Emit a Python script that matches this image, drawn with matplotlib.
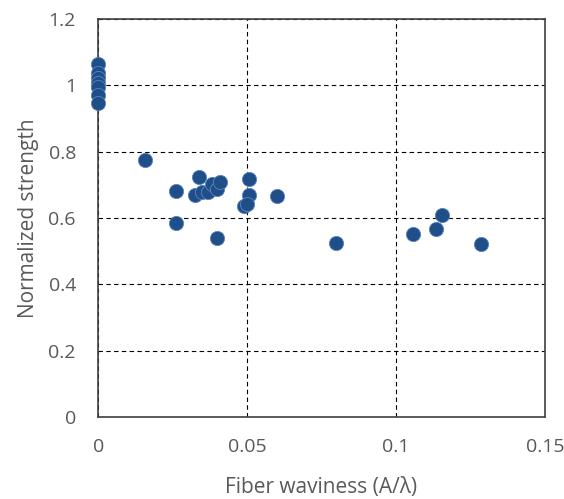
import numpy as np
import matplotlib
matplotlib.use("Agg")
import matplotlib.pyplot as plt
from matplotlib.ticker import FuncFormatter

# fiber waviness (A/lambda) and normalized strength
waviness = [0.0, 0.0, 0.0, 0.0, 0.0, 0.0, 0.0,
            0.0158, 0.0339, 0.0261, 0.0263, 0.0324, 0.0348, 0.0370,
            0.0381, 0.0398, 0.0409, 0.0399, 0.0506, 0.0506, 0.0491,
            0.0500, 0.0602, 0.0799, 0.1058, 0.1136, 0.1155, 0.1285]
strength = [1.063, 1.036, 1.021, 1.006, 0.995, 0.970, 0.946,
            0.774, 0.724, 0.682, 0.584, 0.671, 0.679, 0.679,
            0.702, 0.689, 0.709, 0.541, 0.717, 0.670, 0.636,
            0.642, 0.666, 0.526, 0.551, 0.566, 0.608, 0.523]

xticks = [0, 0.05, 0.1, 0.15]
yticks = [0, 0.2, 0.4, 0.6, 0.8, 1.0, 1.2]

plt.rcParams['font.family'] = ['Open Sans', 'DejaVu Sans']

fig = plt.figure(figsize=(5.64, 4.99), dpi=100)
ax = fig.add_axes([0.174, 0.164, 0.792, 0.798])

ax.scatter(waviness, strength, s=105, color='#1F4E89', edgecolors='#5B86BE',
           linewidths=0.6, zorder=3, clip_on=False)

ax.set_xlim(0, 0.15)
ax.set_ylim(0, 1.2)
ax.set_xticks(xticks)
ax.set_yticks(yticks)
fmt = FuncFormatter(lambda v, p: '%g' % v)
ax.xaxis.set_major_formatter(fmt)
ax.yaxis.set_major_formatter(fmt)
ax.tick_params(length=0, labelsize=14, labelcolor='#595959')
ax.tick_params(axis='x', pad=15)
ax.tick_params(axis='y', pad=16)
ax.grid(True, color='black', linestyle=(0, (4, 3)), linewidth=0.8)
ax.set_axisbelow(True)
for s in ax.spines.values():
    s.set_color('#404040')
    s.set_linewidth(1.2)

ax.set_xlabel('Fiber waviness (A/λ)', fontsize=15, color='#595959', labelpad=15)
ax.set_ylabel('Normalized strength', fontsize=15, color='#595959', labelpad=7)

fig.savefig('out.png', dpi=100)
